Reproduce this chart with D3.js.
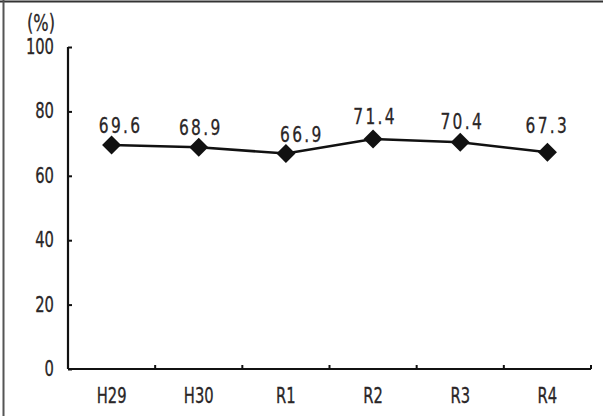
<!DOCTYPE html>
<html><head><meta charset="utf-8">
<script src="https://cdn.jsdelivr.net/npm/d3@7"></script>
<style>
html,body{margin:0;padding:0;background:#fff;}
text{font-family:"DejaVu Sans Condensed","DejaVu Sans",sans-serif;fill:#2a2627;stroke:#2a2627;stroke-width:0.3;}
</style></head>
<body><svg id="chart" width="603" height="416"></svg>
<script>
const categories = ["H29","H30","R1","R2","R3","R4"];
const values = [69.6, 68.9, 66.9, 71.4, 70.4, 67.3];
const valueLabels = ["69.6","68.9","66.9","71.4","70.4","67.3"];
const yTicks = [0,20,40,60,80,100];
const unitLabel = "(%)";
// label offsets relative to marker (style)
const labelDx = [9, 2, 16, 2, 2, 0];
const labelDy = [-12, -12, -12, -15, -13, -19];

const SX = 0.78;
const svg = d3.select("#chart");
const ink = "#111";
function addText(sel, x, y, txt, anchor, fs, ls){
  const g = sel.append("g").attr("transform",`translate(${x},${y}) scale(${SX},1)`);
  g.append("text").attr("text-anchor",anchor||"middle").attr("font-size",fs)
   .attr("letter-spacing", ls||0).text(txt);
  return g;
}
// frame
svg.append("line").attr("x1",0).attr("x2",603).attr("y1",1.5).attr("y2",1.5).attr("stroke","#333").attr("stroke-width",2);
svg.append("line").attr("x1",3.5).attr("x2",3.5).attr("y1",0).attr("y2",416).attr("stroke","#555").attr("stroke-width",2);

const x = d3.scaleBand().domain(categories).range([68, 591]);
const y = d3.scaleLinear().domain([0,100]).range([369, 47]);

// y axis
const yAxis = d3.axisLeft(y).tickValues(yTicks).tickSize(-4).tickFormat("");
const gy = svg.append("g").attr("transform","translate(68,0)").call(yAxis);
gy.select(".domain").attr("stroke",ink).attr("stroke-width",2.2).attr("d","M0,47V369");
gy.selectAll(".tick line").attr("stroke",ink).attr("stroke-width",2);
yTicks.forEach(t => addText(svg, 54, y(t)+7, String(t), "end", 21));

// x axis with boundary ticks
const gx = svg.append("g");
gx.append("line").attr("x1",x.range()[0]).attr("x2",x.range()[1]).attr("y1",y(0)).attr("y2",y(0)).attr("stroke",ink).attr("stroke-width",2.2);
const boundaries = categories.map(c => x(c) + x.bandwidth());
gx.selectAll("line.bt").data(boundaries).enter().append("line")
  .attr("x1",d=>d).attr("x2",d=>d).attr("y1",y(0)).attr("y2",y(0)-4).attr("stroke",ink).attr("stroke-width",2);
categories.forEach(c => addText(gx, x(c)+x.bandwidth()/2, 403, c, "middle", 21));

// unit
addText(svg, 41, 31, unitLabel, "middle", 23);

// line
const cx = i => x(categories[i]) + x.bandwidth()/2;
const line = d3.line().x((d,i)=>cx(i)).y(d=>y(d));
svg.append("path").datum(values).attr("d",line).attr("fill","none").attr("stroke",ink).attr("stroke-width",2.5);

// markers
const diamond = d3.symbol().type(d3.symbolDiamond2).size(230);
svg.selectAll("path.m").data(values).enter().append("path")
  .attr("transform",(d,i)=>`translate(${cx(i)},${y(d)})`).attr("d",diamond).attr("fill",ink);

// value labels
values.forEach((d,i) => addText(svg, cx(i)+labelDx[i], y(d)+labelDy[i], valueLabels[i], "middle", 22, 3));
</script></body></html>
